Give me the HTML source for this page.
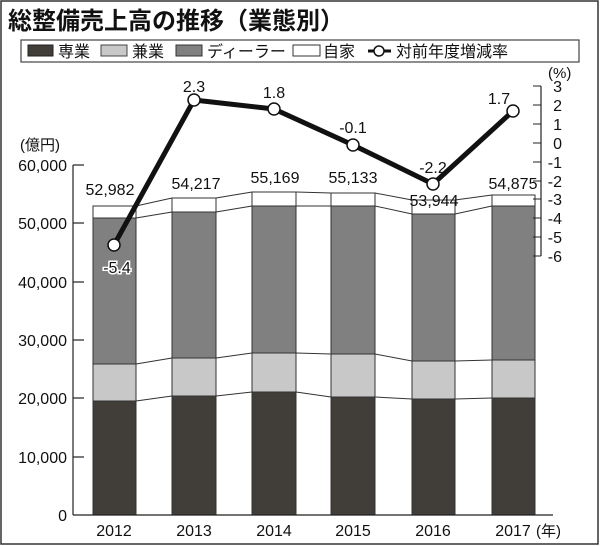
<!DOCTYPE html>
<html><head><meta charset="utf-8"><style>
body{margin:0;background:#fff}
svg{display:block}
text{font-family:"Liberation Sans","Noto Sans CJK JP",sans-serif;fill:#111}
</style></head><body>
<svg width="600" height="546" viewBox="0 0 600 546">
<rect x="1" y="1" width="597" height="543" fill="#fff" stroke="#333" stroke-width="1.5"/>
<text x="8" y="29" font-size="24" font-weight="bold" font-family="'Noto Sans CJK JP',sans-serif">総整備売上高の推移（業態別）</text>
<rect x="21" y="40" width="558" height="22" fill="#fff" stroke="#444" stroke-width="1.2"/>
<g font-size="16" font-family="'Noto Sans CJK JP',sans-serif">
<rect x="28" y="45" width="25" height="11" fill="#413e3a" stroke="#222"/><text x="58" y="57">専業</text>
<rect x="101" y="45" width="26" height="11" fill="#c8c8c8" stroke="#444"/><text x="132" y="57">兼業</text>
<rect x="176" y="45" width="26" height="11" fill="#808080" stroke="#333"/><text x="207" y="57">ディーラー</text>
<rect x="293" y="45" width="27" height="11" fill="#fff" stroke="#333"/><text x="323" y="57">自家</text>
<line x1="368" y1="51" x2="391" y2="51" stroke="#111" stroke-width="3"/><circle cx="379" cy="51" r="5" fill="#fff" stroke="#111" stroke-width="1.5"/><text x="396" y="57">対前年度増減率</text>
</g>
<g stroke="#333" stroke-width="1">
<rect x="93" y="401" width="43" height="114" fill="#413e3a"/>
<rect x="93" y="364" width="43" height="37" fill="#c8c8c8"/>
<rect x="93" y="218" width="43" height="146" fill="#808080"/>
<rect x="93" y="206" width="43" height="12" fill="#fff"/>
<rect x="172" y="396" width="44" height="119" fill="#413e3a"/>
<rect x="172" y="358" width="44" height="38" fill="#c8c8c8"/>
<rect x="172" y="212" width="44" height="146" fill="#808080"/>
<rect x="172" y="198" width="44" height="14" fill="#fff"/>
<rect x="252" y="392" width="44" height="123" fill="#413e3a"/>
<rect x="252" y="353" width="44" height="39" fill="#c8c8c8"/>
<rect x="252" y="206" width="44" height="147" fill="#808080"/>
<rect x="252" y="192" width="44" height="14" fill="#fff"/>
<rect x="331" y="397" width="44" height="118" fill="#413e3a"/>
<rect x="331" y="354" width="44" height="43" fill="#c8c8c8"/>
<rect x="331" y="206" width="44" height="148" fill="#808080"/>
<rect x="331" y="193" width="44" height="13" fill="#fff"/>
<rect x="412" y="399" width="43" height="116" fill="#413e3a"/>
<rect x="412" y="361" width="43" height="38" fill="#c8c8c8"/>
<rect x="412" y="214" width="43" height="147" fill="#808080"/>
<rect x="412" y="200" width="43" height="14" fill="#fff"/>
<rect x="492" y="398" width="43" height="117" fill="#413e3a"/>
<rect x="492" y="360" width="43" height="38" fill="#c8c8c8"/>
<rect x="492" y="206" width="43" height="154" fill="#808080"/>
<rect x="492" y="195" width="43" height="11" fill="#fff"/>
</g>
<g stroke="#333" stroke-width="1" fill="none">
<polyline points="136,401 172,396"/><polyline points="216,396 252,392"/><polyline points="296,392 331,397"/><polyline points="375,397 412,399"/><polyline points="455,399 492,398"/>
<polyline points="136,364 172,358"/><polyline points="216,358 252,353"/><polyline points="296,353 331,354"/><polyline points="375,354 412,361"/><polyline points="455,361 492,360"/>
<polyline points="136,218 172,212"/><polyline points="216,212 252,206"/><polyline points="296,206 331,206"/><polyline points="375,206 412,214"/><polyline points="455,214 492,206"/>
<polyline points="136,206 172,198"/><polyline points="216,198 252,192"/><polyline points="296,192 331,193"/><polyline points="375,193 412,200"/><polyline points="455,200 492,195"/>
</g>
<g stroke="#222" stroke-width="1.2">
<line x1="73" y1="165" x2="73" y2="515"/>
<line x1="73" y1="515" x2="553" y2="515"/>
<line x1="73" y1="165" x2="84" y2="165"/><line x1="73" y1="223" x2="84" y2="223"/><line x1="73" y1="282" x2="84" y2="282"/><line x1="73" y1="340" x2="84" y2="340"/><line x1="73" y1="398" x2="84" y2="398"/><line x1="73" y1="457" x2="84" y2="457"/>
<line x1="541" y1="86" x2="541" y2="256"/>
</g>
<g stroke="#222" stroke-width="1">
<line x1="533" y1="86" x2="541" y2="86"/><line x1="533" y1="105" x2="541" y2="105"/><line x1="533" y1="124" x2="541" y2="124"/><line x1="533" y1="143" x2="541" y2="143"/><line x1="533" y1="162" x2="541" y2="162"/><line x1="533" y1="181" x2="541" y2="181"/><line x1="533" y1="199" x2="541" y2="199"/><line x1="533" y1="218" x2="541" y2="218"/><line x1="533" y1="237" x2="541" y2="237"/><line x1="533" y1="256" x2="541" y2="256"/>
</g>
<g font-size="16" text-anchor="end">
<text x="67" y="171">60,000</text><text x="67" y="229">50,000</text><text x="67" y="288">40,000</text><text x="67" y="346">30,000</text><text x="67" y="404">20,000</text><text x="67" y="463">10,000</text><text x="67" y="521">0</text>
</g>
<text x="20" y="150" font-size="15" font-family="'Noto Sans CJK JP',sans-serif">(億円)</text>
<g font-size="16" text-anchor="end">
<text x="562" y="92">3</text><text x="562" y="111">2</text><text x="562" y="130">1</text><text x="562" y="149">0</text><text x="562" y="168">-1</text><text x="562" y="187">-2</text><text x="562" y="205">-3</text><text x="562" y="224">-4</text><text x="562" y="243">-5</text><text x="562" y="262">-6</text>
</g>
<text x="548" y="78" font-size="15" font-family="'Noto Sans CJK JP',sans-serif">(%)</text>
<g font-size="16" text-anchor="middle">
<text x="114" y="536">2012</text><text x="194" y="536">2013</text><text x="274" y="536">2014</text><text x="353" y="536">2015</text><text x="433" y="536">2016</text><text x="513" y="536">2017</text>
</g>
<text x="536" y="536" font-size="15" font-family="'Noto Sans CJK JP',sans-serif">(年)</text>
<g font-size="16" text-anchor="middle">
<text x="110" y="195">52,982</text><text x="196" y="189">54,217</text><text x="275" y="183">55,169</text><text x="353" y="183">55,133</text><text x="434" y="206">53,944</text><text x="513" y="189">54,875</text>
</g>
<polyline points="114,245 194,100 274,109 353,145 433,184 513,111" fill="none" stroke="#111" stroke-width="5" stroke-linejoin="round"/>
<g fill="#fff" stroke="#111" stroke-width="1.5">
<circle cx="114" cy="245" r="6"/><circle cx="194" cy="100" r="6"/><circle cx="274" cy="109" r="6"/><circle cx="353" cy="145" r="6"/><circle cx="433" cy="184" r="6"/><circle cx="513" cy="111" r="6"/>
</g>
<g font-size="16" text-anchor="middle">
<text x="194" y="92">2.3</text><text x="274" y="98">1.8</text><text x="353" y="133">-0.1</text><text x="433" y="173">-2.2</text><text x="499" y="104">1.7</text>
<text x="117" y="273" stroke="#fff" stroke-width="3" paint-order="stroke">-5.4</text>
</g>
</svg>
</body></html>
